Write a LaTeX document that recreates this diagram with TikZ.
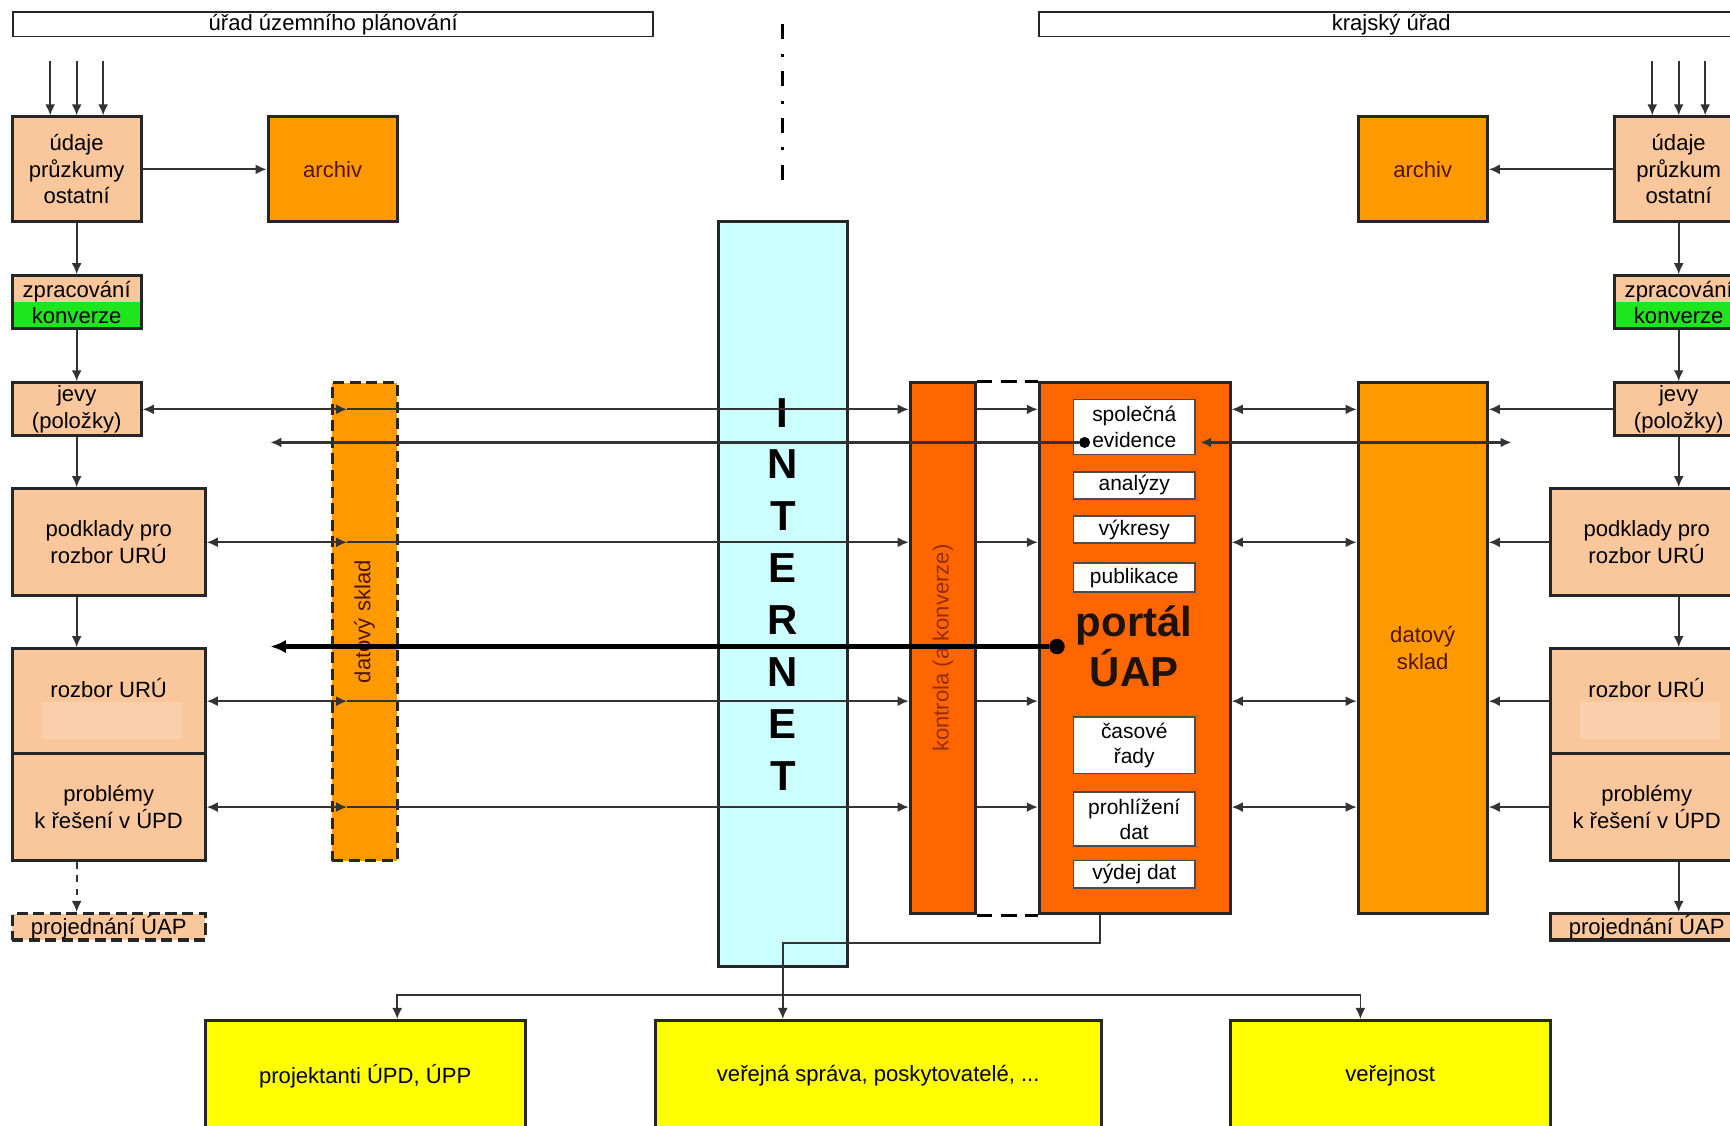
\documentclass[tikz,border=0pt]{standalone}
\usepackage{fontspec}
\setmainfont{Liberation Sans}
\usetikzlibrary{arrows.meta}

\definecolor{peach}{RGB}{250,198,156}
\definecolor{peachpale}{RGB}{250,207,172}
\definecolor{amber}{RGB}{255,153,0}
\definecolor{rust}{RGB}{255,102,0}
\definecolor{lime}{RGB}{30,230,30}
\definecolor{sky}{RGB}{204,255,255}
\definecolor{lemon}{RGB}{255,255,0}
\definecolor{maroon}{RGB}{80,20,0}
\definecolor{brick}{RGB}{150,45,0}

\begin{document}
\begin{tikzpicture}[
    x=0.5pt, y=-0.5pt,
    >={Latex[length=5pt,width=4.5pt]},
    box/.style={draw=black!85, line width=1.4pt, inner sep=0pt, align=center, font=\fontsize{10}{12}\selectfont},
    narrowbox/.style={minimum width=58.5pt},
    widebox/.style={minimum width=87.5pt},
    peachbox/.style={box, fill=peach},
    storebox/.style={box, fill=amber, text=maroon},
    portalbox/.style={box, fill=rust},
    userbox/.style={box, fill=lemon, minimum height=50pt},
    itembox/.style={box, fill=white, line width=0.8pt, draw=black!70, minimum width=55pt, font=\fontsize{9.5}{11.5}\selectfont},
    banner/.style={box, line width=0.8pt, minimum height=11pt},
    dashbox/.style={dash pattern=on 5pt off 2.5pt},
    greenhalf/.style={path picture={\fill[lime] (path picture bounding box.west) rectangle (path picture bounding box.south east);}},
    palepatch/.style={path picture={\fill[peachpale] ([shift={(-60.5,0.5)}]path picture bounding box.center) rectangle ([shift={(66.5,34.5)}]path picture bounding box.center);}},
    link/.style={draw=black!80, line width=0.8pt},
    dot/.style={circle, fill=black, inner sep=0pt, minimum size=5pt}
  ]

  \useasboundingbox (0,0) rectangle (1568,1020);
  \clip (0,0) rectangle (1568,1020);
  \fill[white] (0,0) rectangle (1568,1020);

  % urad uzemniho planovani
  \node[banner, minimum width=290pt] (bannerL) at (302,22) {úřad územního plánování};
  \node[peachbox, narrowbox, minimum height=47.5pt] (udajeL) at (69.5,153.5) {údaje\\průzkumy\\ostatní};
  \node[storebox, narrowbox, minimum height=47.5pt] (archivL) at (301.5,153.5) {archiv};
  \node[peachbox, narrowbox, minimum height=24pt, greenhalf] (zpracL) at (69.5,274) {zpracování\\konverze};
  \node[peachbox, narrowbox, minimum height=24pt] (jevyL) at (69.5,371) {jevy\\(položky)};
  \node[peachbox, widebox, minimum height=48.5pt] (podkladyL) at (98.5,491.5) {podklady pro\\rozbor URÚ};
  \node[peachbox, widebox, minimum height=47.5pt, palepatch] (rozborL) at (98.5,635.5) {rozbor URÚ\\\phantom{rozbor URÚ}};
  \node[peachbox, widebox, minimum height=48.5pt] (problemyL) at (98.5,731.5) {problémy\\k řešení v ÚPD};
  \node[peachbox, widebox, dashbox, minimum height=12pt] (projL) at (98.5,840) {projednání ÚAP};
  \node[storebox, dashbox, minimum width=29.5pt, minimum height=216.5pt] (skladL) at (330.5,563.5) {};
  \node[rotate=90, text=maroon, font=\fontsize{10}{12}\selectfont] (skladLText) at (skladL) {datový sklad};

  % internet
  \draw[line width=1.4pt, dash pattern=on 6.8pt off 6.6pt on 1.4pt off 6.4pt] (709,22) -- (709,163);
  \node[box, fill=sky, narrowbox, minimum height=337.5pt] (internet) at (709.5,538.5) {};
  \node[align=center, font=\fontsize{19}{23.5}\selectfont\bfseries] (internetText) at (internet) {I\\N\\T\\E\\R\\N\\E\\T};

  % portal UAP
  \node[portalbox, minimum width=29.5pt, minimum height=240.5pt] (kontrola) at (854.5,587.5) {};
  \node[rotate=90, text=brick, font=\fontsize{10}{12}\selectfont] (kontrolaText) at (kontrola) {kontrola (a konverze)};
  \node[portalbox, minimum width=86.5pt, minimum height=240.5pt] (portal) at (1028.5,587.5) {};
  \draw[line width=1.4pt, dash pattern=on 7pt off 4pt] (kontrola.north east) -- (portal.north west);
  \draw[line width=1.4pt, dash pattern=on 7pt off 4pt] (kontrola.south east) -- (portal.south west);
  \node[itembox, minimum height=25pt] (spolecna) at (1028,387) {společná\\evidence};
  \node[itembox, minimum height=12pt] (analyzy) at (1028,440) {analýzy};
  \node[itembox, minimum height=12pt] (vykresy) at (1028,480) {výkresy};
  \node[itembox, minimum height=13pt] (publikace) at (1028,523.5) {publikace};
  \node[align=center, text=black!85!brown, font=\fontsize{19}{22.5}\selectfont\bfseries] (portalText) at (1028,586) {portál\\ÚAP};
  \node[itembox, minimum height=25.5pt] (casove) at (1028,675.5) {časové\\řady};
  \node[itembox, minimum height=24.5pt] (prohlizeni) at (1028,742.5) {prohlížení\\dat};
  \node[itembox, minimum height=12.5pt] (vydej) at (1028,792.5) {výdej dat};

  % krajsky urad
  \node[banner, minimum width=319pt] (bannerR) at (1261,22) {krajský úřad};
  \node[storebox, narrowbox, minimum height=47.5pt] (archivR) at (1289.5,153.5) {archiv};
  \node[peachbox, narrowbox, minimum height=47.5pt] (udajeR) at (1521.5,153.5) {údaje\\průzkum\\ostatní};
  \node[peachbox, narrowbox, minimum height=24pt, greenhalf] (zpracR) at (1521.5,274) {zpracování\\konverze};
  \node[peachbox, narrowbox, minimum height=24pt] (jevyR) at (1521.5,371) {jevy\\(položky)};
  \node[peachbox, widebox, minimum height=48.5pt] (podkladyR) at (1492.5,491.5) {podklady pro\\rozbor URÚ};
  \node[peachbox, widebox, minimum height=47.5pt, palepatch] (rozborR) at (1492.5,635.5) {rozbor URÚ\\\phantom{rozbor URÚ}};
  \node[peachbox, widebox, minimum height=48.5pt] (problemyR) at (1492.5,731.5) {problémy\\k řešení v ÚPD};
  \node[peachbox, widebox, minimum height=12pt] (projR) at (1492.5,840) {projednání ÚAP};
  \node[storebox, narrowbox, minimum height=240.5pt] (skladR) at (1289.5,587.5) {datový\\sklad};

  % uzivatele
  \node[userbox, minimum width=145pt] (projektanti) at (331,975) {projektanti ÚPD, ÚPP};
  \node[userbox, minimum width=202pt] (verejna) at (796,975) {veřejná správa, poskytovatelé, ...};
  \node[userbox, minimum width=145pt] (verejnost) at (1260,975) {veřejnost};

  % vstupy
  \foreach \dx [count=\i] in {-24,0,24} {
    \coordinate (inL\i) at ([shift={(\dx,-49)}]udajeL.north);
    \coordinate (inR\i) at ([shift={(\dx,-49)}]udajeR.north);
    \draw[->, link] (inL\i) -- (inL\i |- udajeL.north);
    \draw[->, link] (inR\i) -- (inR\i |- udajeR.north);
  }

  % sloupce
  \draw[->, link] (udajeL) -- (archivL);
  \draw[->, link] (udajeL) -- (zpracL);
  \draw[->, link] (zpracL) -- (jevyL);
  \draw[->, link] (jevyL) -- (jevyL |- podkladyL.north);
  \draw[->, link] (jevyL |- podkladyL.south) -- (jevyL |- rozborL.north);
  \draw[->, link, dashed] (jevyL |- problemyL.south) -- (jevyL |- projL.north);

  \draw[->, link] (udajeR) -- (archivR);
  \draw[->, link] (udajeR) -- (zpracR);
  \draw[->, link] (zpracR) -- (jevyR);
  \draw[->, link] (jevyR) -- (jevyR |- podkladyR.north);
  \draw[->, link] (jevyR |- podkladyR.south) -- (jevyR |- rozborR.north);
  \draw[->, link] (jevyR |- problemyR.south) -- (jevyR |- projR.north);

  % radky
  \coordinate (skladLtip) at ([xshift=7.5pt]skladL.west);
  \foreach \a/\b in {jevyL/jevyR, podkladyL/podkladyR, rozborL/rozborR, problemyL/problemyR} {
    \draw[<->, link] (\a.east) -- (skladLtip |- \a.east);
    \draw[->, link] (skladLtip |- \a.east) -- (kontrola.west |- \a.east);
    \draw[->, link] (kontrola.east |- \a.east) -- (portal.west |- \a.east);
    \draw[<->, link] (portal.east |- \a.east) -- (skladR.west |- \a.east);
    \draw[->, link] (\b.west) -- (skladR.east |- \b.west);
  }

  % evidence a portal
  \node[dot] (dotA) at (983,401) {};
  \node[dot, minimum size=7pt] (dotB) at (958,586) {};
  \coordinate (outA) at (245,401);
  \coordinate (outA2) at (1370,401);
  \coordinate (outB) at (245,586);
  \draw[->, link, line width=1.1pt] (dotA) -- (outA);
  \draw[<->, link, line width=1.1pt] ([xshift=2pt]spolecna.east |- dotA) -- (outA2);
  \draw[->, line width=2pt, >={Latex[length=7pt,width=6pt]}] (dotB) -- (outB);

  % vydej
  \coordinate (portalOut) at ([xshift=-15.75pt]portal.south);
  \coordinate (bus) at (709,902);
  \draw[->, link] (portalOut) -- ++(0,25) -| (internet.center |- verejna.north);
  \draw[->, link] (bus) -| ([xshift=14.5pt]projektanti.north);
  \draw[->, link] (bus) -| ([xshift=-13.5pt]verejnost.north);

\end{tikzpicture}
\end{document}
